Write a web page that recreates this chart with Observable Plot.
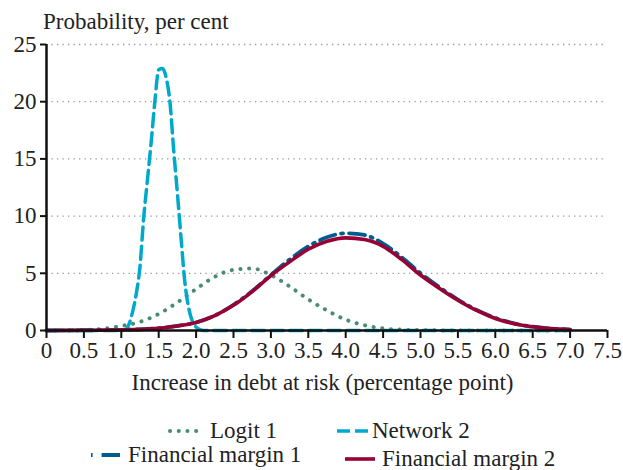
<!DOCTYPE html>
<html>
<head>
<meta charset="utf-8">
<script src="https://cdn.jsdelivr.net/npm/d3@7"></script>
<script src="https://cdn.jsdelivr.net/npm/@observablehq/plot@0.6"></script>
<style>
  html, body { margin: 0; padding: 0; background: #fff; }
  #wrap { position: relative; width: 623px; height: 470px; font-family: "Liberation Serif", "DejaVu Serif", serif; color: #222; overflow: hidden; }
  #title { position: absolute; left: 43px; top: 9px; font-size: 23px; line-height: 26px; white-space: nowrap; }
  #xtitle { position: absolute; left: 0; width: 645px; text-align: center; top: 370px; font-size: 23px; line-height: 26px; white-space: nowrap; }
  #chart { position: absolute; left: 0; top: 0; }
  #legend { position: absolute; left: 0; top: 400px; }
</style>
</head>
<body>
<div id="wrap">
  <div id="chart"></div>
  <div id="title">Probability, per cent</div>
  <div id="xtitle">Increase in debt at risk (percentage point)</div>
  <div id="legend"></div>
</div>
<script>
// ---- data ----
const seriesNames = ["Logit 1", "Network 2", "Financial margin 1", "Financial margin 2"];
const xTicks = [0, 0.5, 1.0, 1.5, 2.0, 2.5, 3.0, 3.5, 4.0, 4.5, 5.0, 5.5, 6.0, 6.5, 7.0, 7.5];
const yTicks = [0, 5, 10, 15, 20, 25];

const gridX = [0, 0.25, 0.5, 0.75, 1.0, 1.25, 1.5, 1.75, 2.0, 2.25, 2.5, 2.75, 3.0, 3.25, 3.5, 3.75, 4.0, 4.25, 4.5, 4.75, 5.0, 5.25, 5.5, 5.75, 6.0, 6.25, 6.5, 6.75, 7.0];
const logit1 = [0, 0.01, 0.05, 0.15, 0.4, 0.75, 1.45, 2.45, 3.62, 4.7, 5.3, 5.42, 4.85, 3.85, 2.72, 1.75, 0.95, 0.46, 0.18, 0.07, 0.03, 0.01, 0, 0, 0, 0, 0, 0, 0];
const fm1 = [0, 0.01, 0.02, 0.03, 0.06, 0.1, 0.2, 0.4, 0.7, 1.3, 2.25, 3.45, 4.85, 6.2, 7.35, 8.15, 8.5, 8.35, 7.6, 6.4, 5.0, 3.8, 2.7, 1.8, 1.1, 0.62, 0.33, 0.17, 0.08];
const fm2 = [0, 0.01, 0.02, 0.03, 0.06, 0.1, 0.2, 0.4, 0.7, 1.3, 2.2, 3.4, 4.8, 6.0, 7.1, 7.8, 8.1, 7.95, 7.35, 6.2, 4.85, 3.7, 2.65, 1.75, 1.05, 0.6, 0.33, 0.17, 0.08];

const networkX = [0, 0.5, 1.0, 1.05, 1.1, 1.15, 1.2, 1.25, 1.3, 1.35, 1.4, 1.45, 1.5, 1.55, 1.6, 1.65, 1.7, 1.75, 1.8, 1.85, 1.9, 1.95, 2.0, 2.05, 2.1, 3.0, 4.0, 5.0, 6.0, 7.0];
const network2 = [0, 0, 0, 0.05, 0.5, 1.6, 3.2, 5.6, 9.9, 13.2, 16.5, 20.1, 22.8, 22.9, 22.1, 20.0, 15.8, 12.0, 8.0, 4.2, 2.0, 0.8, 0.3, 0.08, 0, 0, 0, 0, 0, 0];

// ---- styles ----
const colors = { "Logit 1": "#4a8c73", "Network 2": "#00a9cc", "Financial margin 1": "#005b8e", "Financial margin 2": "#990033" };

const tbl = (xs, ys) => xs.map((x, i) => ({ x, y: ys[i] }));
const logitData = tbl(gridX, logit1);
const fm1Data = tbl(gridX, fm1);
const fm2Data = tbl(gridX, fm2);
const netData = tbl(networkX, network2);

const chart = Plot.plot({
  width: 623,
  height: 400,
  marginLeft: 46,
  marginRight: 16,
  marginTop: 44,
  marginBottom: 70,
  style: { fontFamily: "'Liberation Serif', 'DejaVu Serif', serif", fontSize: "23px", color: "#222", background: "transparent", overflow: "visible" },
  x: { domain: [0, 7.5] },
  y: { domain: [0, 25] },
  marks: [
    Plot.ruleY(yTicks.filter(d => d > 0), { stroke: "#999", strokeWidth: 1.3, strokeDasharray: "1.3,4.2" }),
    Plot.line(logitData, { x: "x", y: "y", curve: "monotone-x", stroke: colors["Logit 1"], strokeWidth: 4, strokeDasharray: "0.1,8.6", strokeLinecap: "round" }),
    Plot.line(netData, { x: "x", y: "y", curve: "monotone-x", stroke: colors["Network 2"], strokeWidth: 3.5, strokeDasharray: "13,6" }),
    Plot.line(fm1Data, { x: "x", y: "y", curve: "monotone-x", stroke: colors["Financial margin 1"], strokeWidth: 3.8, strokeDasharray: "16,6,2,6" }),
    Plot.line(fm2Data, { x: "x", y: "y", curve: "monotone-x", stroke: colors["Financial margin 2"], strokeWidth: 3.6 }),
    Plot.ruleY([0], { stroke: "#111", strokeWidth: 2.5 }),
    Plot.ruleX([0], { stroke: "#111", strokeWidth: 2.5 }),
    Plot.axisX({ ticks: xTicks, tickFormat: d => d === 0 ? "0" : d.toFixed(1), tickSize: 8, tickPadding: 3, fontSize: 23, stroke: "#111", strokeWidth: 2, label: null }),
    Plot.axisY({ ticks: yTicks, tickFormat: d => String(d), tickSize: 6, tickPadding: 4, fontSize: 23, stroke: "#111", strokeWidth: 2, label: null })
  ]
});
document.getElementById("chart").appendChild(chart);

// ---- legend ----
const lg = d3.select("#legend").append("svg").attr("width", 623).attr("height", 70)
  .style("font-family", "'Liberation Serif', 'DejaVu Serif', serif").style("font-size", "23px");
const items = [
  { name: seriesNames[0], x1: 170, x2: 204, y: 31, tx: 210, dash: "0.1,8.6", cap: "round", w: 4 },
  { name: seriesNames[1], x1: 337, x2: 368, y: 31, tx: 372, dash: "13,5", cap: "butt", w: 3.5 },
  { name: seriesNames[2], x1: 91, x2: 120, y: 55, tx: 128, dash: "1.6,9,20,0", cap: "butt", w: 3.8 },
  { name: seriesNames[3], x1: 345, x2: 375, y: 59, tx: 382, dash: null, cap: "butt", w: 3.6 }
];
for (const it of items) {
  const ln = lg.append("line").attr("x1", it.x1).attr("x2", it.x2).attr("y1", it.y).attr("y2", it.y)
    .attr("stroke", colors[it.name]).attr("stroke-width", it.w).attr("stroke-linecap", it.cap);
  if (it.dash) ln.attr("stroke-dasharray", it.dash);
  lg.append("text").attr("x", it.tx).attr("y", it.y).attr("dy", "0.3em").attr("fill", "#222").text(it.name);
}
</script>
</body>
</html>
